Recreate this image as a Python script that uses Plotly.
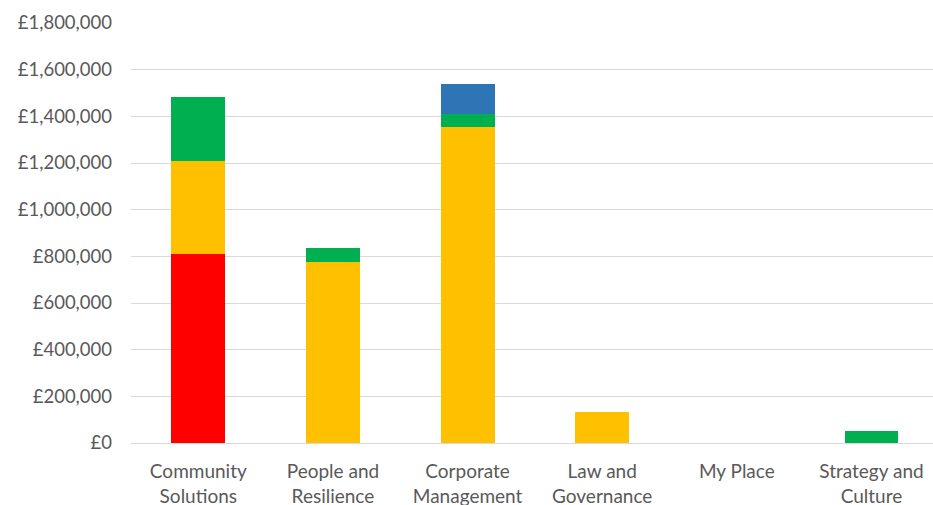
import plotly.graph_objects as go

categories = ["Community<br>Solutions", "People and<br>Resilience", "Corporate<br>Management",
              "Law and<br>Governance", "My Place", "Strategy and<br>Culture"]
red_vals = [810000, 0, 0, 0, 0, 0]
amber_vals = [400000, 776000, 1354000, 133000, 0, 0]
green_vals = [273000, 60000, 57000, 0, 0, 51000]
blue_vals = [0, 0, 129000, 0, 0, 0]

series = [
    ("Red", red_vals, "#FF0000"),
    ("Amber", amber_vals, "#FFC000"),
    ("Green", green_vals, "#00B050"),
    ("Blue", blue_vals, "#2E75B6"),
]

fig = go.Figure()
for name, vals, col in series:
    fig.add_trace(go.Bar(x=categories, y=vals, name=name, marker_color=col,
                         marker_line_width=0, width=0.4))

fig.update_layout(
    barmode="stack",
    width=933, height=505,
    margin=dict(l=131, r=0, t=23, b=62),
    paper_bgcolor="white", plot_bgcolor="white",
    showlegend=False,
    font=dict(family="Lato, Open Sans, sans-serif", size=18, color="#595959"),
)
fig.update_xaxes(range=[-0.5, 5.457], showgrid=False, showline=False, ticks="",
                 ticklabelstandoff=15, automargin=False,
                 tickfont=dict(size=19, color="#595959"))
fig.update_yaxes(range=[0, 1800000], dtick=200000, tickprefix="£", tickformat=",d",
                 showgrid=True, gridcolor="#D9D9D9", gridwidth=1,
                 zeroline=True, zerolinecolor="#D9D9D9", zerolinewidth=1,
                 showline=False, ticks="", ticklabelstandoff=18, automargin=False,
                 tickfont=dict(size=18.5, color="#595959"))
fig.write_html("out.html")
